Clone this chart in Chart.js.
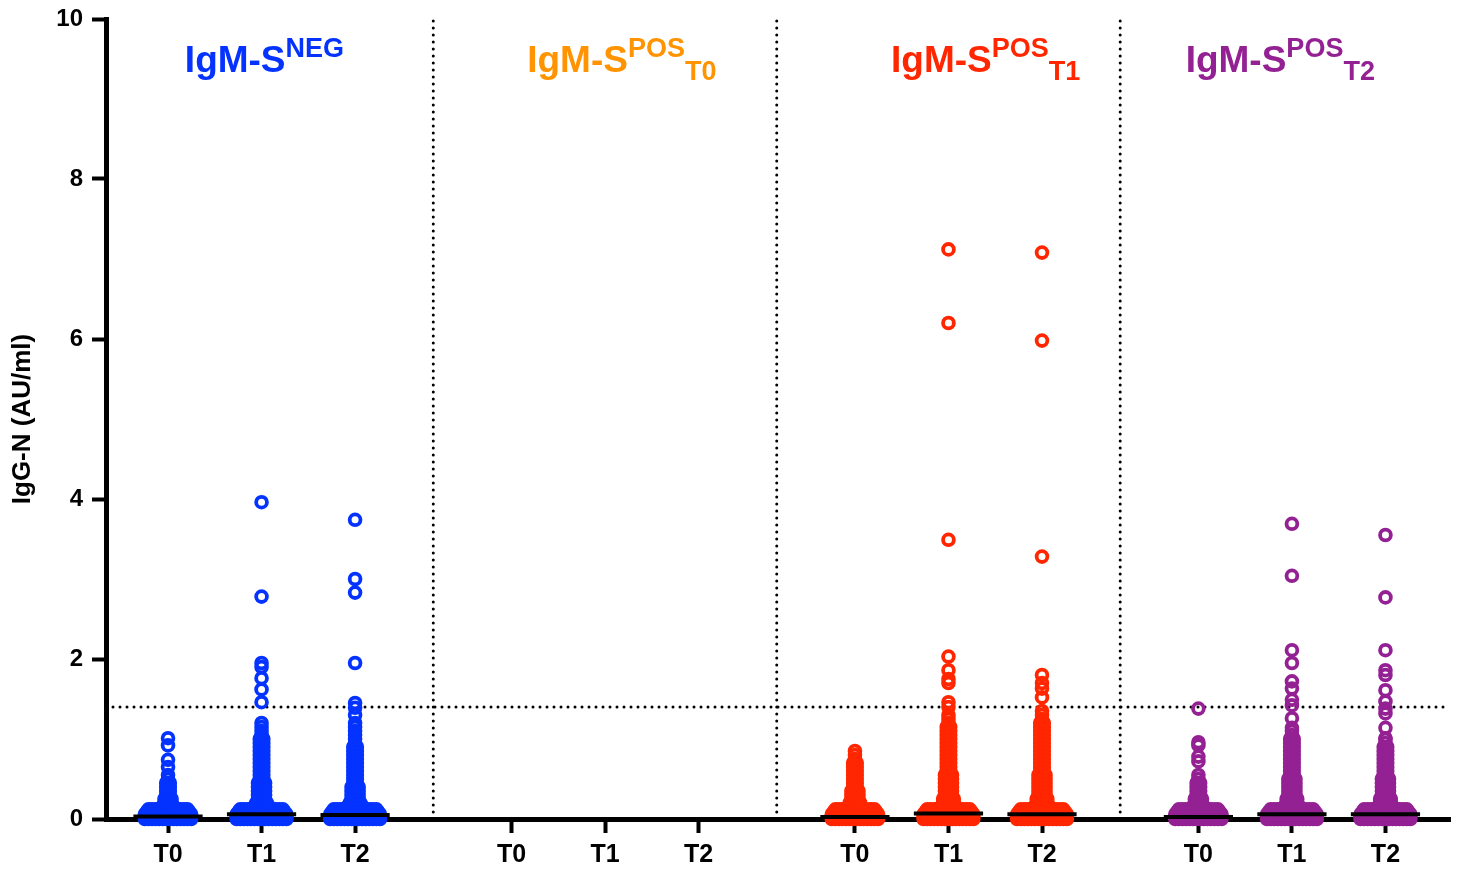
<!DOCTYPE html>
<html lang="en">
<head>
<meta charset="UTF-8">
<title>IgG-N</title>
<script src="https://cdn.jsdelivr.net/npm/chart.js@4.4.1/dist/chart.umd.min.js"></script>
<style>
  body { margin: 0; background: #fff; }
  .wrap { width: 1461px; height: 872px; position: relative; }
</style>
</head>
<body>
<div class="wrap"><canvas id="chart"></canvas></div>
<script>
// group headers
const titleMain = 'IgM-S';
const titleSup = ['NEG', 'POS', 'POS', 'POS'];
const titleSub = ['', 'T0', 'T1', 'T2'];
const titleX = [0.18, 3.84, 7.73, 10.88];   // left edge of each header, x units
const groupColors = ['#0433FF', '#FF9300', '#FF2600', '#942193'];
const timeLabels = ['T0', 'T1', 'T2'];
const cutoff = 1.4;

// dense part of each column: number of points sitting at each level
const levels = [0, 0.03, 0.06, 0.09, 0.12, 0.16, 0.2, 0.25, 0.3, 0.35, 0.4, 0.45, 0.5, 0.55, 0.6,
                0.65, 0.7, 0.75, 0.8, 0.85, 0.9, 0.95, 1.0, 1.05, 1.1, 1.15, 1.2, 1.25, 1.3, 1.35];

const negT0Dense = [14,14,14,13,12, 4,3,3,2,2, 2,2,1,1,0, 0,0,0,0,0, 0,0,0,0,0, 0,0,0,0,0];
const negT1Dense = [15,15,15,14,13, 5,4,3,3,3, 3,3,2,2,2, 2,2,2,2,2, 2,2,2,1,1, 1,1,0,0,0];
const negT2Dense = [15,15,15,14,13, 5,4,3,3,3, 3,2,2,2,2, 2,2,2,2,2, 2,1,1,1,1, 1,1,0,0,0];
const t1T0Dense  = [14,14,14,13,12, 4,4,3,3,3, 2,2,2,2,2, 2,2,1,1,1, 0,0,0,0,0, 0,0,0,0,0];
const t1T1Dense  = [15,15,15,14,13, 5,4,4,3,3, 3,3,3,3,2, 2,2,2,2,2, 2,2,2,2,2, 2,1,1,1,0];
const t1T2Dense  = [15,15,15,14,13, 5,4,4,3,3, 3,3,3,3,2, 2,2,2,2,2, 2,2,2,2,2, 2,2,1,1,1];
const t2T0Dense  = [14,14,14,13,12, 4,3,3,2,2, 2,2,1,1,0, 0,0,0,0,0, 0,0,0,0,0, 0,0,0,0,0];
const t2T1Dense  = [15,15,15,14,13, 5,4,4,3,3, 3,3,3,2,2, 2,2,2,2,2, 2,2,2,1,1, 0,0,0,0,0];
const t2T2Dense  = [15,15,15,14,13, 5,4,4,3,3, 3,3,3,2,2, 2,2,2,2,2, 2,1,1,0,0, 0,0,0,0,0];

// single points above the dense part
const negT0High = [0.65, 0.74, 0.92, 1.01];
const negT1High = [1.46, 1.62, 1.76, 1.9, 1.95, 2.78, 3.96];
const negT2High = [1.3, 1.39, 1.45, 1.95, 2.83, 3.0, 3.74];
const t1T0High  = [];
const t1T1High  = [1.4, 1.46, 1.7, 1.75, 1.86, 2.03, 3.49, 6.2, 7.12];
const t1T2High  = [1.52, 1.63, 1.7, 1.8, 3.28, 5.98, 7.08];
const t2T0High  = [0.72, 0.78, 0.92, 0.96, 1.38];
const t2T1High  = [1.14, 1.26, 1.42, 1.49, 1.63, 1.72, 1.95, 2.11, 3.04, 3.69];
const t2T2High  = [1.01, 1.14, 1.32, 1.38, 1.47, 1.61, 1.8, 1.86, 2.11, 2.77, 3.55];

const negMedian = [0.03, 0.06, 0.05];
const t1Median  = [0.025, 0.07, 0.06];
const t2Median  = [0.025, 0.06, 0.06];

const GROUP_STEP = 3.672;
const SPREAD = 0.038;
const MED_HALF = 0.37;

const columns = [
  {g: 0, t: 0, dense: negT0Dense, high: negT0High, med: negMedian[0]},
  {g: 0, t: 1, dense: negT1Dense, high: negT1High, med: negMedian[1]},
  {g: 0, t: 2, dense: negT2Dense, high: negT2High, med: negMedian[2]},
  {g: 2, t: 0, dense: t1T0Dense, high: t1T0High, med: t1Median[0]},
  {g: 2, t: 1, dense: t1T1Dense, high: t1T1High, med: t1Median[1]},
  {g: 2, t: 2, dense: t1T2Dense, high: t1T2High, med: t1Median[2]},
  {g: 3, t: 0, dense: t2T0Dense, high: t2T0High, med: t2Median[0]},
  {g: 3, t: 1, dense: t2T1Dense, high: t2T1High, med: t2Median[1]},
  {g: 3, t: 2, dense: t2T2Dense, high: t2T2High, med: t2Median[2]},
];

function swarm(center, dense, high) {
  const pts = [];
  levels.forEach((v, i) => {
    const n = dense[i];
    for (let k = 0; k < n; k++) pts.push({x: center + (k - (n - 1) / 2) * SPREAD, y: v});
  });
  high.forEach(v => pts.push({x: center, y: v}));
  return pts;
}

const tickPos = [];
for (let g = 0; g < 4; g++) for (let t = 0; t < 3; t++) tickPos.push(g * GROUP_STEP + t);
const xMin = -0.663, xMax = 3 * GROUP_STEP + 2 + 0.69;

const datasets = [];
columns.forEach(c => {
  const cx = c.g * GROUP_STEP + c.t;
  datasets.push({
    type: 'scatter', order: 1, clip: false,
    data: swarm(cx, c.dense, c.high),
    pointStyle: 'circle', pointRadius: 5.4, pointBorderWidth: 3.8,
    pointBorderColor: groupColors[c.g], pointBackgroundColor: 'rgba(0,0,0,0)'
  });
  datasets.push({
    type: 'line', order: 0, clip: false,
    data: [{x: cx - MED_HALF, y: c.med}, {x: cx + MED_HALF, y: c.med}],
    borderColor: '#000', borderWidth: 4, pointRadius: 0
  });
});

// dotted separators and cut-off
const dotted = {type: 'line', order: 2, borderColor: '#000', borderWidth: 3,
  borderDash: [0, 7], borderCapStyle: 'round', pointRadius: 0};
for (let g = 0; g < 3; g++) {
  const xd = g * GROUP_STEP + (2 + GROUP_STEP) / 2;
  datasets.push(Object.assign({}, dotted, {data: [{x: xd, y: 0}, {x: xd, y: 10}]}));
}
datasets.push(Object.assign({}, dotted, {data: [{x: xMin, y: cutoff}, {x: xMax, y: cutoff}]}));

const FONT = '"Liberation Sans", Arial, sans-serif';

const groupTitles = {
  id: 'groupTitles',
  afterDraw(chart) {
    const ctx = chart.ctx, xs = chart.scales.x, top = chart.chartArea.top;
    ctx.save();
    ctx.textBaseline = 'alphabetic';
    titleSup.forEach((sup, i) => {
      let x = xs.getPixelForValue(titleX[i]);
      ctx.fillStyle = groupColors[i];
      ctx.font = 'bold 37px ' + FONT;
      ctx.fillText(titleMain, x, top + 53);
      x += ctx.measureText(titleMain).width;
      ctx.font = 'bold 27px ' + FONT;
      ctx.fillText(sup, x, top + 38);
      x += ctx.measureText(sup).width;
      ctx.fillText(titleSub[i], x, top + 61);
    });
    ctx.restore();
  }
};

new Chart(document.getElementById('chart'), {
  type: 'scatter',
  data: {datasets: datasets},
  plugins: [groupTitles],
  options: {
    responsive: true,
    maintainAspectRatio: false,
    devicePixelRatio: 1,
    animation: false,
    events: [],
    layout: {padding: {top: 19, right: 11, left: 0, bottom: 0}},
    plugins: {legend: {display: false}, tooltip: {enabled: false}},
    scales: {
      x: {
        type: 'linear', min: xMin, max: xMax, z: 1,
        afterFit(s) { s.height = 53; s.paddingLeft = 0; s.paddingRight = 0; },
        afterBuildTicks(s) { s.ticks = tickPos.map(v => ({value: v})); },
        border: {display: true, color: '#000', width: 5},
        grid: {drawOnChartArea: false, drawTicks: true, tickLength: 14, tickWidth: 4, tickColor: '#000'},
        ticks: {
          padding: 7, color: '#000', maxRotation: 0, autoSkip: false,
          font: {family: FONT, size: 25, weight: 'bold'},
          callback: (v, i) => timeLabels[i % 3]
        }
      },
      y: {
        min: 0, max: 10, z: 1,
        afterFit(s) { s.width = 106; s.paddingTop = 0; s.paddingBottom = 0; },
        border: {display: true, color: '#000', width: 5},
        grid: {drawOnChartArea: false, drawTicks: true, tickLength: 14, tickWidth: 4, tickColor: '#000'},
        ticks: {stepSize: 2, padding: 9, color: '#000', font: {family: FONT, size: 24, weight: 'bold'}},
        title: {display: true, text: 'IgG-N (AU/ml)', color: '#000', padding: {top: 7, bottom: 0},
          font: {family: FONT, size: 26, weight: 'bold'}}
      }
    }
  }
});
</script>
</body>
</html>
